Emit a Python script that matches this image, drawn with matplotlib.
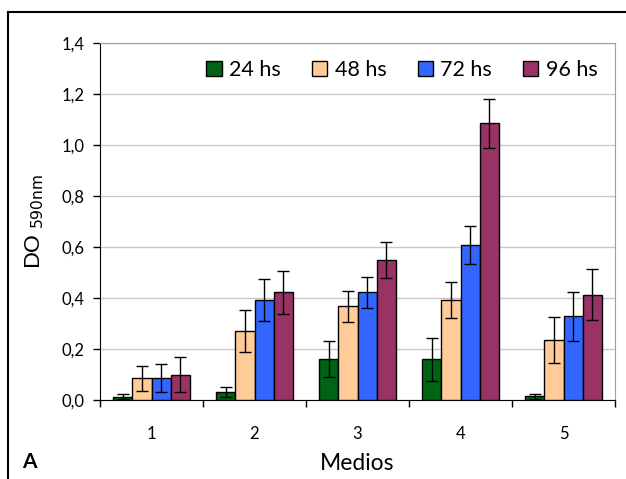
import numpy as np
import matplotlib.pyplot as plt
from matplotlib.lines import Line2D

plt.rcParams['font.family'] = ['Lato', 'DejaVu Sans']
plt.rcParams['mathtext.default'] = 'regular'

# Datos
medios = ['1', '2', '3', '4', '5']
series = ['24 hs', '48 hs', '72 hs', '96 hs']
h24 = [0.013, 0.030, 0.160, 0.160, 0.014]
h48 = [0.085, 0.270, 0.367, 0.392, 0.234]
h72 = [0.085, 0.393, 0.422, 0.607, 0.328]
h96 = [0.100, 0.422, 0.548, 1.085, 0.413]
e24 = [0.010, 0.020, 0.070, 0.085, 0.010]
e48 = [0.050, 0.083, 0.060, 0.070, 0.090]
e72 = [0.055, 0.083, 0.060, 0.075, 0.095]
e96 = [0.070, 0.085, 0.070, 0.095, 0.100]
colores = ['#006414', '#FFCC99', '#3366FF', '#993366']

valores = [h24, h48, h72, h96]
errores = [e24, e48, e72, e96]

fig = plt.figure(figsize=(6.26, 4.79), dpi=100)
ax = fig.add_axes([100/626, 1-400/479, 515/626, 357/479])

x = np.arange(len(medios))
w = 0.185
for i in range(4):
    pos = x + (i - 1.5) * w
    ax.bar(pos, valores[i], w, color=colores[i], edgecolor='black', linewidth=1,
           label=series[i], zorder=3)
    ax.errorbar(pos, valores[i], yerr=errores[i], fmt='none', ecolor='black',
                elinewidth=1, capsize=4.5, capthick=1, zorder=4)

ax.set_xlim(-0.5, 4.5)
ax.set_ylim(0, 1.4)
yt = np.arange(0, 1.41, 0.2)
ax.set_yticks(yt)
ax.set_yticklabels([f'{v:.1f}'.replace('.', ',') for v in yt], fontsize=12)
ax.set_xticks(x)
ax.set_xticklabels(medios, fontsize=12)
ax.set_xticks(np.arange(-0.5, 4.6, 1), minor=True)
ax.tick_params(axis='x', which='major', length=0, pad=19)
ax.tick_params(axis='x', which='minor', length=5, width=1, direction='out')
ax.tick_params(axis='y', length=5, width=1, direction='out', pad=6)
ax.yaxis.grid(True, color='#c8c8c8', linewidth=1, zorder=0)
ax.set_axisbelow(True)

for s in ['top', 'right']:
    ax.spines[s].set_color('#a0a0a0')
for s in ['left', 'bottom']:
    ax.spines[s].set_color('black')

ax.set_xlabel('Medios', fontsize=16.5, labelpad=8)
ax.yaxis.set_label_coords(-0.105, 0.5)
ax.set_ylabel(r'DO $_{\mathsf{590nm}}$', fontsize=16)

handles = [plt.Rectangle((0, 0), 1, 1, facecolor=c, edgecolor='black', linewidth=1) for c in colores]
fig.legend(handles, series, loc='center', bbox_to_anchor=(402/626, 1-70/479), ncol=4,
           frameon=False, fontsize=15.5, handlelength=0.7, handleheight=0.7,
           handletextpad=0.35, columnspacing=1.45)

fig.text(22/626, 1-462/479, 'A', fontsize=15, fontweight='bold', va='center')

# Marco de la figura
fig.add_artist(Line2D([8/626, 8/626], [0, 1-12/479], color='black', linewidth=1.5))
fig.add_artist(Line2D([8/626, 1], [1-12/479, 1-12/479], color='black', linewidth=1.5))

fig.savefig('out.png', dpi=100)
